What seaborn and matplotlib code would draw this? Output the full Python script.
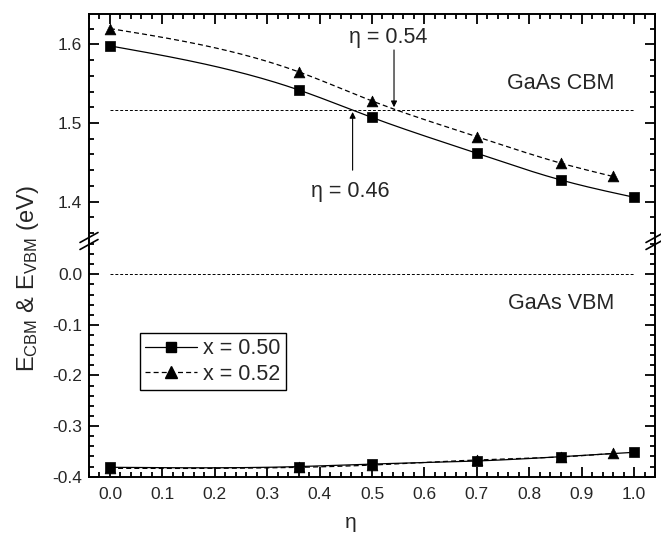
import numpy as np
import pandas as pd
import seaborn as sns
import matplotlib.pyplot as plt
from matplotlib.lines import Line2D
from matplotlib.ticker import MultipleLocator

# --- data ---
eta_sq = [0.0, 0.36, 0.50, 0.70, 0.86, 1.00]
cbm_x50 = [1.598, 1.542, 1.507, 1.4615, 1.4276, 1.4056]
vbm_x50 = [-0.3814, -0.380, -0.375, -0.369, -0.3605, -0.3518]

eta_tri = [0.0, 0.36, 0.50, 0.70, 0.86, 0.96]
cbm_x52 = [1.620, 1.565, 1.528, 1.4826, 1.449, 1.432]
vbm_x52 = [-0.3835, -0.3815, -0.377, -0.367, -0.361, -0.354]

gaas_cbm = 1.517
gaas_vbm = 0.0
eta_cross = [0.46, 0.54]


def smooth(x, y, n=150):
    # natural cubic spline, used only to draw the connecting curve
    x = np.asarray(x, float)
    y = np.asarray(y, float)
    h = np.diff(x)
    m = len(x)
    A = np.zeros((m, m))
    b = np.zeros(m)
    A[0, 0] = A[-1, -1] = 1
    for i in range(1, m - 1):
        A[i, i - 1] = h[i - 1]
        A[i, i] = 2 * (h[i - 1] + h[i])
        A[i, i + 1] = h[i]
        b[i] = 3 * ((y[i + 1] - y[i]) / h[i] - (y[i] - y[i - 1]) / h[i - 1])
    c = np.linalg.solve(A, b)
    xs = np.linspace(x[0], x[-1], n)
    idx = np.clip(np.searchsorted(x, xs) - 1, 0, m - 2)
    dx = xs - x[idx]
    bc = (y[1:] - y[:-1]) / h - h * (2 * c[:-1] + c[1:]) / 3
    dc = (c[1:] - c[:-1]) / (3 * h)
    ys = y[idx] + bc[idx] * dx + c[idx] * dx ** 2 + dc[idx] * dx ** 3
    return xs, ys


sns.set_style('ticks')
plt.rcParams['font.family'] = ['Liberation Sans', 'DejaVu Sans']
plt.rcParams['mathtext.fontset'] = 'custom'
plt.rcParams['mathtext.rm'] = 'Liberation Sans'
plt.rcParams['mathtext.it'] = 'Liberation Sans:italic'

W, H = 661, 542
fig = plt.figure(figsize=(6.61, 5.42), dpi=100)
x0, x1 = 89 / W, 655 / W
ax_top = fig.add_axes([x0, 1 - 241 / H, x1 - x0, (241 - 14) / H])
ax_bot = fig.add_axes([x0, 1 - 477 / H, x1 - x0, (477 - 241) / H])

solid = '-'
dashed = (0, (4, 2.5))
hdash = (0, (3, 2))

for ax, y50, y52, ref in [(ax_top, cbm_x50, cbm_x52, gaas_cbm),
                          (ax_bot, vbm_x50, vbm_x52, gaas_vbm)]:
    ax.plot([0, 1], [ref, ref], color='k', lw=0.7, linestyle=hdash)
    xs, ys = smooth(eta_tri, y52)
    sns.lineplot(x=xs, y=ys, ax=ax, color='k', lw=0.9, linestyle=dashed,
                 sort=False, estimator=None)
    xs, ys = smooth(eta_sq, y50)
    sns.lineplot(x=xs, y=ys, ax=ax, color='k', lw=0.9, linestyle=solid,
                 sort=False, estimator=None)
    sns.scatterplot(x=eta_tri, y=y52, ax=ax, marker='^', s=60, color='k',
                    edgecolor='k', linewidth=0.5, zorder=4)
    sns.scatterplot(x=eta_sq, y=y50, ax=ax, marker='s', s=42, color='k',
                    edgecolor='k', linewidth=0.5, zorder=5)
    ax.set_xlim(-0.04, 1.04)
    ax.xaxis.set_major_locator(MultipleLocator(0.1))
    ax.xaxis.set_minor_locator(MultipleLocator(0.02))
    ax.yaxis.set_major_locator(MultipleLocator(0.1))
    ax.yaxis.set_minor_locator(MultipleLocator(0.02))
    ax.tick_params(which='both', direction='in', top=True, right=True,
                   width=1.3, labelsize=12.5, color='k')
    ax.tick_params(which='major', length=7)
    ax.tick_params(which='minor', length=3.5)
    ax.tick_params(axis='x', pad=7)
    ax.tick_params(axis='y', pad=5)
    for sp in ax.spines.values():
        sp.set_linewidth(1.4)
        sp.set_color('k')
    ax.set_xlabel('')
    ax.set_ylabel('')

ax_top.set_ylim(1.35, 1.6385)
ax_bot.set_ylim(-0.4006, 0.0658)
ax_top.yaxis.set_major_formatter(plt.FuncFormatter(lambda v, p: f'{v:.1f}'))
ax_bot.yaxis.set_major_formatter(plt.FuncFormatter(lambda v, p: f'{v:.1f}'))
ax_bot.xaxis.set_major_formatter(plt.FuncFormatter(lambda v, p: f'{v:.1f}'))

ax_top.spines['bottom'].set_visible(False)
ax_top.tick_params(axis='x', which='both', bottom=False, labelbottom=False)
ax_bot.spines['top'].set_visible(False)
ax_bot.tick_params(axis='x', which='both', top=False)

# annotations
ax_top.annotate('', xy=(eta_cross[1] + 0.002, gaas_cbm + 0.003),
                xytext=(eta_cross[1] + 0.002, 1.5928),
                arrowprops=dict(arrowstyle='-|>', color='k', lw=0.8,
                                mutation_scale=9, shrinkA=0, shrinkB=0))
ax_top.annotate('', xy=(eta_cross[0] + 0.003, gaas_cbm - 0.003),
                xytext=(eta_cross[0] + 0.003, 1.440),
                arrowprops=dict(arrowstyle='-|>', color='k', lw=0.8,
                                mutation_scale=9, shrinkA=0, shrinkB=0))
ax_top.text(0.531, 1.608, f'η = {eta_cross[1]:.2f}', fontsize=15.5,
            ha='center', va='center')
ax_top.text(0.459, 1.4127, f'η = {eta_cross[0]:.2f}', fontsize=15.5,
            ha='center', va='center')
ax_top.text(0.86, 1.550, 'GaAs CBM', fontsize=15.5, ha='center', va='center')
ax_bot.text(0.86, -0.0573, 'GaAs VBM', fontsize=15.5, ha='center', va='center')

# legend
handles = [Line2D([], [], color='k', lw=0.9, linestyle=solid, marker='s',
                  markersize=7),
           Line2D([], [], color='k', lw=0.9, linestyle=dashed, marker='^',
                  markersize=8.5)]
leg = ax_bot.legend(handles, ['x = 0.50', 'x = 0.52'], loc='upper left',
                    bbox_to_anchor=(0.09, 0.61), borderaxespad=0,
                    fontsize=15.5, handlelength=2.4, handletextpad=0.3,
                    labelspacing=0.2, borderpad=0.25, fancybox=False,
                    framealpha=1, edgecolor='k')
leg.get_frame().set_linewidth(1.0)

# axis labels
fig.text(28 / W, 1 - 279 / H, r'E$_{\rm CBM}$ & E$_{\rm VBM}$ (eV)',
         rotation=90, ha='center', va='center', fontsize=17)
fig.text(351 / W, 1 - 522 / H, 'η', ha='center', va='center', fontsize=15)

# axis break marks on both spines
for xb in (x0, x1):
    for dy in (-3.5, 3.5):
        yb = 1 - (241 + dy) / H
        fig.add_artist(Line2D([xb - 9 / W, xb + 9 / W],
                              [yb - 5 / H, yb + 5 / H],
                              color='k', lw=1.2, transform=fig.transFigure))

fig.savefig('out.png', dpi=100)
